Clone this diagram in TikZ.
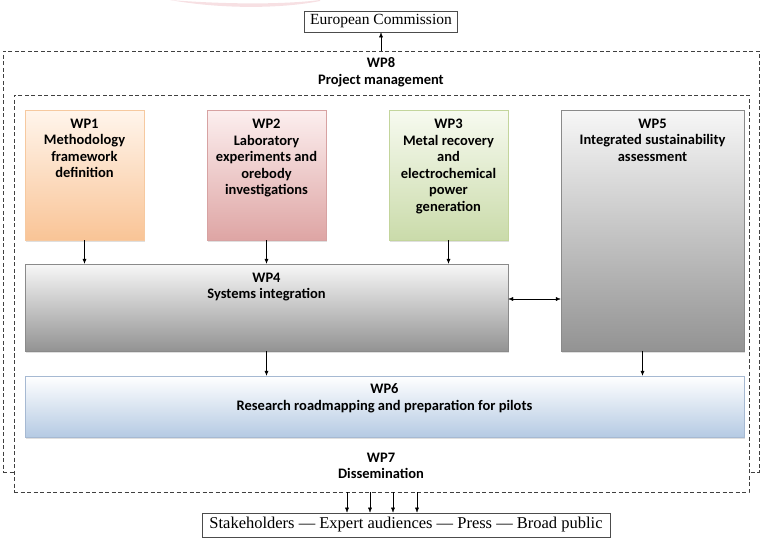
\documentclass[tikz,border=0pt]{standalone}
\usepackage{fontspec}
\setmainfont{Liberation Serif}[WordSpace=0.6]
\newfontfamily\audfont{Liberation Serif}[Ligatures=TeX]
\newfontfamily\wpfont{Carlito}
\usetikzlibrary{positioning,arrows.meta,shadows}

\definecolor{orangetop}{HTML}{FFF5EC}
\definecolor{orangebot}{HTML}{F9C496}
\definecolor{orangeline}{HTML}{F6C9A0}
\definecolor{pinktop}{HTML}{FCEFEF}
\definecolor{pinkbot}{HTML}{DEA5A4}
\definecolor{pinkline}{HTML}{D7A2A2}
\definecolor{greentop}{HTML}{F7FAF0}
\definecolor{greenbot}{HTML}{CADBAA}
\definecolor{greenline}{HTML}{C3D59C}
\definecolor{graytop}{HTML}{F7F7F7}
\definecolor{graybot}{HTML}{939393}
\definecolor{grayline}{HTML}{8A8A8A}
\definecolor{bluetop}{HTML}{FFFFFF}
\definecolor{bluebot}{HTML}{B5CAE3}
\definecolor{blueline}{HTML}{A6B9D2}
\definecolor{swoosh}{HTML}{F3D3D7}

\begin{document}
\begin{tikzpicture}[x=1pt,y=-1pt,->,>={Latex[length=5pt,width=4pt]},
	frame/.style={draw=black!75,line width=0.8pt,dash pattern=on 4pt off 2.5pt,fill=white,inner sep=0pt},
	wpbox/.style={draw=#1line,top color=#1top,bottom color=#1bot,inner sep=0pt,
		drop shadow={shadow xshift=1.2pt,shadow yshift=-1.5pt,opacity=0.25}},
	wptext/.style={font=\wpfont\bfseries\fontsize{14.5}{16.5}\selectfont,align=center,inner sep=1pt},
	plainbox/.style={draw=black!70,line width=0.7pt,fill=white,inner sep=0pt,
		font=\fontsize{15.5}{17}\selectfont}]
\useasboundingbox (0,0) rectangle (761,538);
% faint swoosh at the top edge
\fill[swoosh,opacity=0.7] (170,0) .. controls (220,9) and (280,9) .. (320,1) -- (320,0) .. controls (280,5) and (220,4) .. (170,0);

% dashed frames
\node[frame,minimum width=756,minimum height=421] (wp8) at (381,261.5) {};
\node[wptext] (wp8text) at (381,72) {WP8\\Project management};
\node[frame,minimum width=735,minimum height=397] (wp7) at (381.5,293.5) {};
\node[wptext] (wp7text) at (381,466) {WP7\\Dissemination};

% outside boxes
\node[plainbox,minimum width=153,minimum height=21] (ec) at (381,21.5) {European Commission};
\node[plainbox,minimum width=408,minimum height=24,font=\audfont\fontsize{16.5}{18}\selectfont] (aud) at (406,525) {Stakeholders — Expert audiences — Press — Broad public};

% work packages
\node[wpbox=orange,minimum width=119,minimum height=130] (wp1) at (84.5,175) {};
\node[wpbox=pink,minimum width=119,minimum height=130] (wp2) at (266.5,175) {};
\node[wpbox=green,minimum width=119,minimum height=130] (wp3) at (448.5,175) {};
\node[wpbox=gray,minimum width=183,minimum height=241] (wp5) at (652.5,230.5) {};
\node[wpbox=gray,minimum width=483,minimum height=87] (wp4) at (266.5,307.5) {};
\node[wpbox=blue,minimum width=719,minimum height=61] (wp6) at (384.5,406.5) {};

\node[wptext,below=8pt of wp1.north] (wp1text) {WP1\\Methodology\\framework\\definition};
\node[wptext,below=8pt of wp2.north] (wp2text) {WP2\\Laboratory\\experiments and\\orebody\\investigations};
\node[wptext,below=8pt of wp3.north] (wp3text) {WP3\\Metal recovery\\and\\electrochemical\\power\\generation};
\node[wptext,below=8pt of wp5.north] (wp5text) {WP5\\Integrated sustainability\\assessment};
\node[wptext,below=8pt of wp4.north] (wp4text) {WP4\\Systems integration};
\node[wptext,below=7pt of wp6.north] (wp6text) {WP6\\Research roadmapping and preparation for pilots};

% links
\draw (ec.south |- wp8.north) -- (ec.south);
\draw (wp1.south) -- (wp1.south |- wp4.north);
\draw (wp2.south) -- (wp2.south |- wp4.north);
\draw (wp3.south) -- (wp3.south |- wp4.north);
\coordinate (mid) at ([yshift=8.5pt]wp4.east);
\draw[<->] (mid) -- (mid -| wp5.west);
\draw (wp4.south) -- (wp4.south |- wp6.north);
\coordinate (out5) at ([xshift=-10pt]wp5.south);
\draw (out5) -- (out5 |- wp6.north);
\foreach \x in {347,370,393,417}
	\draw (wp7.south -| \x,0) -- (aud.north -| \x,0);
\end{tikzpicture}
\end{document}
